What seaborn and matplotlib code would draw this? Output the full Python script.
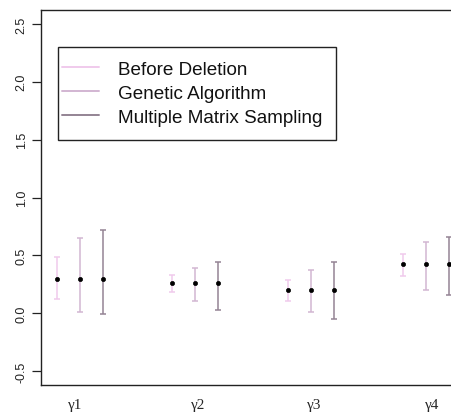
import matplotlib
matplotlib.use("Agg")
import matplotlib.pyplot as plt
import seaborn as sns
import pandas as pd
from matplotlib.lines import Line2D
from matplotlib.patches import Rectangle

params = ["γ1", "γ2", "γ3", "γ4"]
methods = ["Before Deletion", "Genetic Algorithm", "Multiple Matrix Sampling"]
estimates = [0.30, 0.26, 0.20, 0.425]
lower = {
    "Before Deletion": [0.12, 0.18, 0.105, 0.32],
    "Genetic Algorithm": [0.01, 0.11, 0.01, 0.20],
    "Multiple Matrix Sampling": [-0.01, 0.03, -0.05, 0.16],
}
upper = {
    "Before Deletion": [0.49, 0.33, 0.29, 0.515],
    "Genetic Algorithm": [0.65, 0.39, 0.37, 0.615],
    "Multiple Matrix Sampling": [0.72, 0.44, 0.44, 0.66],
}
colors = ["#F0CAEC", "#D2B6D2", "#948494"]

rows = []
for gi, p in enumerate(params):
    for mi, m in enumerate(methods):
        rows.append(dict(param=p, method=m, x=1 + 5 * gi + mi,
                         est=estimates[gi], lo=lower[m][gi], hi=upper[m][gi]))
df = pd.DataFrame(rows)

sns.set_style("white")
plt.rcParams["font.family"] = ["Liberation Sans", "DejaVu Sans"]

fig = plt.figure(figsize=(4.51, 4.14), dpi=100)
W, H = 451, 414
left, right, top, bottom = 41, 465, 11, 386
ax = fig.add_axes([left / W, 1 - bottom / H, (right - left) / W, (bottom - top) / H])

for mi, m in enumerate(methods):
    sub = df[df.method == m]
    ax.errorbar(sub.x, sub.est, yerr=[sub.est - sub.lo, sub.hi - sub.est],
                fmt="none", ecolor=colors[mi], elinewidth=1.1, capsize=2.5,
                capthick=1.1, zorder=2)

sns.scatterplot(data=df, x="x", y="est", color="black", s=9, edgecolor="black",
                linewidth=0.5, ax=ax, zorder=3, legend=False)

ax.set_xlim(0.32, 18.68)
ax.set_ylim(-0.62, 2.62)
ax.set_yticks([-0.5, 0.0, 0.5, 1.0, 1.5, 2.0, 2.5])
ax.set_yticklabels(["-0.5", "0.0", "0.5", "1.0", "1.5", "2.0", "2.5"],
                   rotation=90, va="center", fontsize=9, color="#222222")
ax.set_xticks([])
ax.set_xlabel("")
ax.set_ylabel("")
ax.tick_params(axis="y", left=True, length=6.5, width=0.9, pad=3, color="#222222")
for s in ax.spines.values():
    s.set_color("#222222")
    s.set_linewidth(1.0)

gx = [75, 198, 314, 432]
for p, px in zip(params, gx):
    fig.text(px / W, 1 - 406 / H, p, ha="center", va="center",
             fontsize=11, family=["Liberation Serif", "DejaVu Serif"])

# legend
handles = [Line2D([0], [0], color=c, lw=1.4) for c in colors]
leg = fig.legend(handles, methods, loc="upper left",
                 bbox_to_anchor=(62 / W, 1 - 61.5 / H), frameon=False,
                 fontsize=13.6, handlelength=1.95, handletextpad=1.0,
                 labelspacing=0.36, borderpad=0, borderaxespad=0)
for t in leg.get_texts():
    t.set_color("#111111")
fig.patches.append(Rectangle((58.5 / W, 1 - 140.5 / H), (336 - 58.5) / W,
                             (140.5 - 47.5) / H, transform=fig.transFigure,
                             fill=False, edgecolor="#222222", linewidth=1.0))

fig.savefig("out.png", dpi=100)
